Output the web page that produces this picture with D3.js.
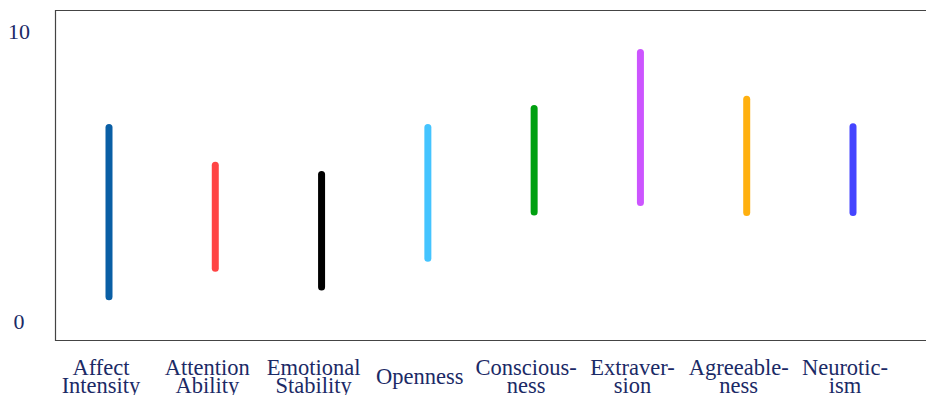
<!DOCTYPE html>
<html>
<head>
<meta charset="utf-8">
<script src="https://cdn.jsdelivr.net/npm/d3@7"></script>
<style>
  body { margin: 0; background: #fff; }
  text { font-family: "Liberation Serif", "Times New Roman", serif; fill: #1b2a66; }
</style>
</head>
<body>
<script>
// traits along the x axis, label lines split where the original wraps
let traits = ['Affect Intensity', 'Attention Ability', 'Emotional Stability', 'Openness',
    'Consciousness', 'Extraversion', 'Agreeableness', 'Neuroticism'];
let labelLines = [['Affect', 'Intensity'], ['Attention', 'Ability'], ['Emotional', 'Stability'], ['Openness'],
    ['Conscious-', 'ness'], ['Extraver-', 'sion'], ['Agreeable-', 'ness'], ['Neurotic-', 'ism']];
let lowValues = [0.84, 1.82, 1.17, 2.16, 3.76, 4.09, 3.74, 3.74];
let highValues = [6.67, 5.37, 5.05, 6.67, 7.33, 9.26, 7.65, 6.70];
let colors = ['#0a5fa5', '#ff4444', '#000000', '#44c4ff', '#00a010', '#cc55ff', '#ffb00f', '#4444ff'];
let yTicks = [0, 10];

let width = 926, height = 395;
let frame = {left: 55, top: 10, right: 926, bottom: 340};

let svg = d3.select('body').append('svg')
    .attr('width', width)
    .attr('height', height);

let x = d3.scalePoint()
    .domain(traits)
    .range([109, 853]);
let y = d3.scaleLinear()
    .domain([0, 10])
    .range([321, 31]);

// frame: left and top and bottom only
svg.append('path')
    .attr('d', `M${frame.right},${frame.top + 0.5}H${frame.left + 0.5}V${frame.bottom + 0.5}H${frame.right}`)
    .style('fill', 'none')
    .style('stroke', '#444')
    .style('stroke-width', 1.2);

svg.selectAll('.ytick').data(yTicks)
    .enter().append('text')
    .attr('class', 'ytick')
    .attr('x', 19)
    .attr('y', d => y(d))
    .attr('dy', '0.35em')
    .attr('text-anchor', 'middle')
    .style('font-size', '22px')
    .text(d => d);

svg.selectAll('.range').data(traits)
    .enter().append('line')
    .attr('class', 'range')
    .attr('x1', d => x(d))
    .attr('x2', d => x(d))
    .attr('y1', (d, i) => y(highValues[i]))
    .attr('y2', (d, i) => y(lowValues[i]))
    .style('stroke', (d, i) => colors[i])
    .style('stroke-width', 7)
    .style('stroke-linecap', 'round');

let labels = svg.selectAll('.xlabel').data(traits)
    .enter().append('text')
    .attr('class', 'xlabel')
    .attr('text-anchor', 'middle')
    .style('font-size', '22.5px');

labels.each(function(d, i) {
    let lines = labelLines[i];
    let lineH = 18;
    let first = 384 - (lines.length - 1) * lineH / 2;
    d3.select(this).selectAll('tspan').data(lines)
        .enter().append('tspan')
        .attr('x', x(d) - 8)
        .attr('y', (t, j) => first + j * lineH)
        .text(t => t);
});
</script>
</body>
</html>
